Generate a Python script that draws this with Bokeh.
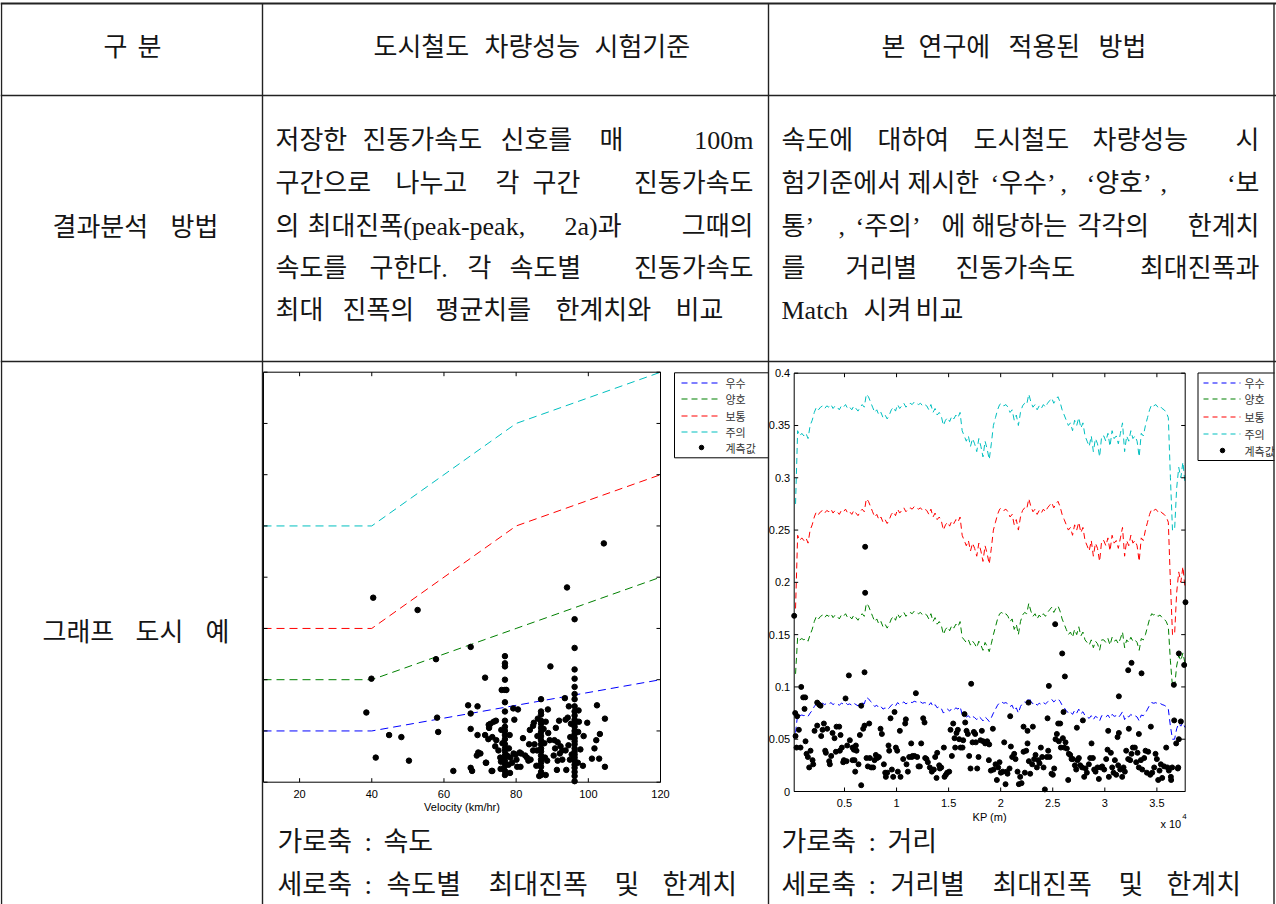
import numpy as np
from bokeh.plotting import figure
from bokeh.models import Range1d
from bokeh.core.properties import value
from bokeh.embed import file_html
from bokeh.resources import INLINE

W, H = 1276, 904

# ---------------- data ----------------
# limit table of the standard (velocity km/h -> peak-peak acceleration)
V_BREAK = [10, 40, 80, 120]
LIM_EXCELLENT = [0.05, 0.05, 0.075, 0.10]
LIM_GOOD = [0.10, 0.10, 0.15, 0.20]
LIM_NORMAL = [0.15, 0.15, 0.25, 0.30]
LIM_CAUTION = [0.25, 0.25, 0.35, 0.40]
LEVEL_NAMES = ["우수", "양호", "보통", "주의"]
MEAS_NAME = "계측값"

# chart 1 : measured max amplitude vs velocity
SPEED_SCATTER = [40.4, 52.7, 104.3, 94.1, 67.4, 57.8, 39.9, 89.5, 71.4, 38.5, 44.8, 48.2, 41.1, 50.3, 58.1,
                 58.4, 62.6, 66.7, 69.3, 67.4, 67.4, 67.4, 67.8, 69.3, 69.1, 69.5, 72.4, 71.7, 73.2,
                 93.5, 102.4, 104.6, 99.7, 102.2, 103.2, 101.7, 101.0, 103.0, 104.6, 98.5, 98.7, 97.8, 97.4,
                 94.3, 93.7, 91.9, 91.0, 88.9, 89.3, 90.6, 91.5, 90.8, 92.3, 92.8, 93.7, 92.1, 91.5, 90.4,
                 91.3, 93.9, 92.8, 94.5, 94.9, 88.2, 88.8, 84.9, 83.8, 84.7, 83.6, 85.1, 84.7, 84.0, 83.0,
                 82.5, 81.9, 81.4, 81.2, 79.9, 79.3, 80.1, 78.9, 79.5, 79.2, 80.5, 88.6, 88.0, 85.8, 86.4,
                 88.2, 73.8, 74.4, 72.9, 72.5, 71.4, 72.3, 73.4, 74.5, 74.2, 75.1, 75.6, 75.8, 77.5, 78.4,
                 77.9, 71.6, 73.4, 70.1, 81.0, 80.3, 83.4,
                 75.9, 78.2, 76.2, 78.0, 75.7, 78.3, 85.9, 87.8, 86.0, 87.6, 85.6, 95.0, 97.2, 95.4, 97.1,
                 95.2, 97.3, 94.6, 76.0, 77.3]
AMP_SCATTER = [0.180, 0.168, 0.233, 0.190, 0.132, 0.120, 0.101, 0.113, 0.102, 0.068, 0.046, 0.044, 0.024, 0.021, 0.063,
               0.049, 0.011, 0.075, 0.074, 0.067, 0.052, 0.014, 0.011, 0.046, 0.026, 0.029, 0.056, 0.019, 0.011,
               0.082, 0.075, 0.062, 0.058, 0.041, 0.047, 0.033, 0.023, 0.023, 0.015, 0.016, 0.045, 0.032, 0.059,
               0.063, 0.061, 0.060, 0.053, 0.048, 0.041, 0.041, 0.039, 0.033, 0.035, 0.031, 0.031, 0.028, 0.021, 0.026,
               0.012, 0.012, 0.022, 0.036, 0.022, 0.059, 0.071, 0.058, 0.051, 0.055, 0.037, 0.037, 0.031, 0.022, 0.024,
               0.026, 0.043, 0.028, 0.015, 0.027, 0.028, 0.022, 0.019, 0.061, 0.072, 0.071, 0.021, 0.024, 0.031, 0.006,
               0.007, 0.059, 0.060, 0.057, 0.053, 0.046, 0.042, 0.044, 0.041, 0.035, 0.031, 0.024, 0.020, 0.026, 0.024,
               0.017, 0.019, 0.011, 0.028, 0.029, 0.015, 0.021,
               0.051, 0.046, 0.038, 0.033, 0.013, 0.009, 0.045, 0.038, 0.062, 0.052, 0.016, 0.044, 0.049, 0.027, 0.019,
               0.057, 0.070, 0.074, 0.090, 0.090]
# measurements concentrated at three cruising speeds
COL_SPEEDS = [76.9, 86.9, 96.2]
COL_AMPS_A = [0.123, 0.116, 0.113, 0.100, 0.090, 0.078, 0.069, 0.060, 0.054, 0.050, 0.046, 0.042,
              0.037, 0.033, 0.030, 0.026, 0.022, 0.019, 0.016, 0.011, 0.007]
COL_AMPS_B = [0.081, 0.069, 0.066, 0.060, 0.057, 0.053, 0.049, 0.045, 0.041, 0.037, 0.033, 0.030,
              0.026, 0.022, 0.019, 0.015, 0.010, 0.007]
COL_AMPS_C = [0.159, 0.131, 0.110, 0.101, 0.093, 0.086, 0.081, 0.074, 0.069, 0.065, 0.061, 0.057, 0.054,
              0.050, 0.047, 0.043, 0.040, 0.037, 0.033, 0.030, 0.027, 0.024, 0.021, 0.017, 0.014, 0.010,
              0.006, 0.001]

# chart 2 : running speed profile along the line (every 200 m from KP 300 m)
KP_START, KP_STEP = 300, 200
SPEED_PROFILE = [50, 78, 76, 77, 76, 77, 75, 80, 84, 90, 94,
                 92, 94, 95, 93, 95, 94, 96, 93, 95, 94, 92, 95, 94, 96, 93, 94, 92, 95, 93, 91, 94, 96, 94,
                 104, 102,
                 98, 94, 90, 92, 88, 90, 86, 88,
                 85, 88,
                 92, 94, 91, 96, 93, 95, 97, 94, 96,
                 97, 96, 98, 97, 96, 97, 95, 96,
                 95, 92, 96, 90, 93, 88, 90, 87,
                 80, 84,
                 86, 83, 87, 85, 88, 86, 90,
                 78, 76,
                 74, 76, 72, 75, 73, 70, 75, 72, 68, 74, 71, 67, 73,
                 80, 86, 92,
                 96, 97, 95, 96, 94, 90, 92,
                 84, 88, 80, 90,
                 95, 97, 96, 104, 98,
                 94, 96, 92, 95, 93, 96, 94, 97,
                 99, 101, 97, 100, 102, 98,
                 92, 88, 84,
                 80, 82, 78, 84, 80, 86, 79, 82, 76,
                 74, 72, 76, 70, 75, 73, 68, 76,
                 76, 74, 77, 72, 78, 75, 76, 73, 77, 82, 70, 76, 74, 78, 75, 76, 74, 68, 77, 76, 80,
                 86, 92, 96, 95, 96, 94, 95, 93, 92, 90,
                 86, 60, 40, 38, 56, 64, 60, 66, 58]

# chart 2 : measured max amplitude vs KP (m)
KP_MEAS_A = [266, 458, 618, 298, 394, 778, 1258, 1354, 1482, 1610,
             1739, 1931, 1995, 2123, 2379, 2379, 2571, 2699, 2763, 2891,
             3019, 3147, 3211, 3339, 3531, 3595, 3723, 3851, 4043, 4171,
             4235, 4491, 4620, 4555, 4748, 4940, 4876, 5100, 5196, 5260,
             5516, 5772, 5964, 5772, 5900, 6092, 6156, 6348, 6028, 6476,
             6604, 6796, 6924, 6604, 7116, 7244, 7372, 7436, 7564, 7756,
             7884, 8012, 8141, 8301, 8461, 8589, 8781, 8909, 8973, 9101,
             9229, 9293, 9421, 9549, 9677, 9805, 9933, 10061, 10125, 10317,
             10381, 10637, 10829, 10893, 10957, 11086, 11214, 11406, 11470, 11534,
             11726, 11854, 11982, 12110, 12238, 12366, 12558, 12686, 12750, 12878,
             13006, 13198, 13390, 13582, 13710, 13838, 13902, 14094, 14158, 14287,
             14543, 14607, 14735, 14863, 15055, 15183, 15311, 15439, 15567, 15631,
             15759, 15887, 16015, 16143, 16335, 16399, 16527, 16591, 16719, 16847,
             16975, 17103, 17167, 17295, 17424, 17552, 17616, 17744, 17872, 18064,
             18192, 18320, 18512, 18704, 18896]
AMP_MEAS_A = [0.075, 0.072, 0.059, 0.053, 0.042, 0.042, 0.048, 0.036, 0.033, 0.023,
              0.039, 0.030, 0.026, 0.058, 0.063, 0.085, 0.083, 0.082, 0.053, 0.059,
              0.065, 0.039, 0.037, 0.060, 0.029, 0.026, 0.034, 0.056, 0.051, 0.038,
              0.062, 0.062, 0.054, 0.039, 0.042, 0.030, 0.028, 0.089, 0.029, 0.044,
              0.049, 0.042, 0.030, 0.030, 0.040, 0.044, 0.039, 0.026, 0.019, 0.054,
              0.082, 0.060, 0.063, 0.006, 0.032, 0.024, 0.065, 0.032, 0.023, 0.023,
              0.030, 0.035, 0.032, 0.033, 0.060, 0.055, 0.026, 0.018, 0.014, 0.018,
              0.044, 0.039, 0.070, 0.021, 0.014, 0.076, 0.042, 0.039, 0.019, 0.058,
              0.014, 0.031, 0.065, 0.069, 0.026, 0.019, 0.033, 0.046, 0.033, 0.034,
              0.034, 0.094, 0.033, 0.024, 0.024, 0.046, 0.070, 0.066, 0.032, 0.031,
              0.028, 0.023, 0.019, 0.021, 0.033, 0.013, 0.037, 0.025, 0.022, 0.023,
              0.042, 0.014, 0.016, 0.018, 0.019, 0.059, 0.034, 0.065, 0.051, 0.042,
              0.056, 0.059, 0.050, 0.042, 0.042, 0.049, 0.074, 0.066, 0.058, 0.055,
              0.034, 0.022, 0.103, 0.047, 0.057, 0.055, 0.047, 0.022, 0.033, 0.049,
              0.058, 0.048, 0.046, 0.048, 0.045]
KP_MEAS_B = [25907, 26163, 24627, 31349, 32245, 32565, 33525, 37111, 36631, 37623,
             26035, 24499, 20914, 19249, 25523, 25715, 22194, 22578, 23090, 27316,
             27892, 30325, 31349, 31221, 32309, 33270, 34422, 36663, 37303, 36855,
             37111, 22674, 18865, 19057, 19313, 19505, 19633, 19761, 19889, 20017,
             20209, 20338, 20466, 20594, 20658, 20850, 20978, 21106, 21298, 21426,
             21618, 21746, 21874, 22002, 22194, 22322, 22450, 22578, 22706, 22834,
             23026, 23218, 23347, 23475, 23603, 23731, 23859, 23987, 24115, 24243,
             24435, 24563, 24691, 24883, 25011, 25139, 25267, 25395, 25587, 25779,
             25971, 26099, 26227, 26355, 26483, 26547, 26675, 26804, 26932, 27124,
             27252, 27380, 27508, 27636, 27828, 28020, 28148, 28276, 28468, 28596,
             28724, 28852, 28980, 29108, 29300, 29428, 29620, 29749, 29941, 30133,
             30261, 30389, 30581, 30709, 30837, 30965, 31093, 31285, 31477, 31669,
             31797, 31925, 32053, 32245, 32437, 32565, 32693, 32885, 33013, 33142,
             33270, 33462, 33590, 33782, 33910, 34038, 34166, 34358, 34550, 34742,
             34870, 34998, 35126, 35254, 35382, 35510, 35703, 35895, 36023, 36151,
             36343, 36471, 37047]
AMP_MEAS_B = [0.132, 0.110, 0.101, 0.091, 0.116, 0.123, 0.113, 0.132, 0.102, 0.121,
              0.076, 0.070, 0.072, 0.060, 0.065, 0.065, 0.062, 0.058, 0.062, 0.061,
              0.068, 0.058, 0.056, 0.052, 0.060, 0.055, 0.062, 0.068, 0.067, 0.046,
              0.050, 0.085, 0.030, 0.020, 0.021, 0.026, 0.011, 0.023, 0.028, 0.018,
              0.019, 0.047, 0.007, 0.019, 0.017, 0.022, 0.043, 0.033, 0.036, 0.031,
              0.019, 0.007, 0.014, 0.008, 0.038, 0.018, 0.039, 0.046, 0.029, 0.017,
              0.026, 0.031, 0.035, 0.023, 0.030, 0.027, 0.042, 0.033, 0.023, 0.002,
              0.033, 0.039, 0.033, 0.017, 0.016, 0.022, 0.050, 0.055, 0.048, 0.042,
              0.051, 0.042, 0.047, 0.041, 0.011, 0.036, 0.035, 0.031, 0.031, 0.025,
              0.021, 0.030, 0.032, 0.025, 0.023, 0.014, 0.022, 0.018, 0.026, 0.032,
              0.046, 0.032, 0.021, 0.019, 0.023, 0.012, 0.023, 0.024, 0.021, 0.031,
              0.040, 0.014, 0.037, 0.023, 0.018, 0.030, 0.016, 0.025, 0.021, 0.014,
              0.023, 0.019, 0.039, 0.031, 0.030, 0.036, 0.042, 0.042, 0.028, 0.037,
              0.023, 0.030, 0.021, 0.032, 0.039, 0.018, 0.038, 0.016, 0.018, 0.023,
              0.036, 0.031, 0.011, 0.020, 0.026, 0.013, 0.024, 0.042, 0.023, 0.020,
              0.014, 0.023, 0.023]
KP_MEAS_C = [170, 6984, 6984, 25233, 37746, 37010, 36370, 5420, 6924, 842, 1034, 1226, 1162]
AMP_MEAS_C = [0.168, 0.234, 0.190, 0.160, 0.181, 0.022, 0.011, 0.111, 0.114, 0.100, 0.090, 0.090, 0.079]

# axes
VEL_LIM = (10, 120)
AMP_LIM = (0.0, 0.4)
KP_LIM = (170, 37720)
VEL_TICKS = [20, 40, 60, 80, 100, 120]
AMP_TICKS = [0, 0.05, 0.1, 0.15, 0.2, 0.25, 0.3, 0.35, 0.4]
AMP_TICK_LABELS = ["0", "0.05", "0.1", "0.15", "0.2", "0.25", "0.3", "0.35", "0.4"]
KP_TICKS = [5000, 10000, 15000, 20000, 25000, 30000, 35000]
KP_TICK_LABELS = ["0.5", "1", "1.5", "2", "2.5", "3", "3.5"]

# table texts
HEADER = ["구 분", "도시철도 차량성능 시험기준", "본 연구에 적용된 방법"]
ROW_LABELS = ["결과분석 방법", "그래프 도시 예"]
STD_TEXT = ["저장한 진동가속도 신호를 매 100m",
            "구간으로 나누고 각 구간 진동가속도",
            "의 최대진폭(peak-peak, 2a)과 그때의",
            "속도를 구한다. 각 속도별 진동가속도",
            "최대 진폭의 평균치를 한계치와 비교"]
OUR_TEXT = ["속도에 대하여 도시철도 차량성능 시",
            "험기준에서 제시한 ‘우수’ , ‘양호’ , ‘보",
            "통’ , ‘주의’ 에 해당하는 각각의 한계치",
            "를 거리별 진동가속도 최대진폭과",
            "Match 시켜 비교"]
CAPTIONS_1 = ["가로축 : 속도", "세로축 : 속도별 최대진폭 및 한계치"]
CAPTIONS_2 = ["가로축 : 거리", "세로축 : 거리별 최대진폭 및 한계치"]

# ---------------- styles / layout ----------------
LEVEL_COLORS = ["#0000ff", "#008000", "#ff0000", "#00bfbf"]
KR = value("Noto Sans CJK KR")
MIX = value("Liberation Serif, Noto Sans CJK KR")
SANS = value("Liberation Sans")
INK = "#151515"


def span_range(p0, p1, d0, d1, total):
    s = (d1 - d0) / (p1 - p0)
    return Range1d(start=d0 - p0 * s, end=d0 + (total - p0) * s)


def Y(py):
    return H - py


p = figure(width=W, height=H, x_range=Range1d(0, W), y_range=Range1d(0, H),
           output_backend="svg", toolbar_location=None, min_border=0,
           x_axis_type=None, y_axis_type=None, outline_line_color=None,
           background_fill_color="white", border_fill_color="white")
p.xgrid.visible = False
p.ygrid.visible = False

# chart frames in page pixels
C1 = dict(l=263, r=660, t=371.7, b=781.7)
C2 = dict(l=793.7, r=1184.7, t=372.7, b=791.0)
p.extra_x_ranges = {"vel": span_range(C1["l"], C1["r"], VEL_LIM[0], VEL_LIM[1], W),
                    "kp": span_range(C2["l"], C2["r"], KP_LIM[0], KP_LIM[1], W)}
p.extra_y_ranges = {"amp1": span_range(Y(C1["b"]), Y(C1["t"]), AMP_LIM[0], AMP_LIM[1], H),
                    "amp2": span_range(Y(C2["b"]), Y(C2["t"]), AMP_LIM[0], AMP_LIM[1], H)}
k1 = dict(x_range_name="vel", y_range_name="amp1")
k2 = dict(x_range_name="kp", y_range_name="amp2")

LIMITS = [LIM_EXCELLENT, LIM_GOOD, LIM_NORMAL, LIM_CAUTION]


def axis_box(kw, xlim, ylim, xticks, yticks):
    p.quad(left=[xlim[0]], right=[xlim[1]], bottom=[ylim[0]], top=[ylim[1]],
           fill_color=None, line_color="black", line_width=1, **kw)
    L = 4
    p.ray(x=xticks, y=[ylim[0]] * len(xticks), length=L, length_units="screen",
          angle=np.pi / 2, line_color="black", line_width=1, **kw)
    p.ray(x=xticks, y=[ylim[1]] * len(xticks), length=L, length_units="screen",
          angle=-np.pi / 2, line_color="black", line_width=1, **kw)
    p.ray(x=[xlim[0]] * len(yticks), y=yticks, length=L, length_units="screen",
          angle=0, line_color="black", line_width=1, **kw)
    p.ray(x=[xlim[1]] * len(yticks), y=yticks, length=L, length_units="screen",
          angle=np.pi, line_color="black", line_width=1, **kw)


# ---------- chart 1 ----------
for lim, col in zip(LIMITS, LEVEL_COLORS):
    p.line(V_BREAK, lim, line_color=col, line_width=1, line_dash="8 5", **k1)
sp1 = list(SPEED_SCATTER) + [COL_SPEEDS[0]] * len(COL_AMPS_A) + [COL_SPEEDS[1]] * len(COL_AMPS_B) + \
    [COL_SPEEDS[2]] * len(COL_AMPS_C)
am1 = list(AMP_SCATTER) + COL_AMPS_A + COL_AMPS_B + COL_AMPS_C
p.scatter(sp1, am1, size=5.5, fill_color="black", line_color="black", **k1)
axis_box(k1, VEL_LIM, AMP_LIM, VEL_TICKS, AMP_TICKS)
p.text(x=VEL_TICKS, y=[AMP_LIM[0]] * len(VEL_TICKS), text=[str(t) for t in VEL_TICKS],
       text_font=SANS, text_font_size="11px", text_align="center", text_baseline="middle",
       y_offset=12, text_color="black", **k1)
p.text(x=[(VEL_LIM[0] + VEL_LIM[1]) / 2], y=[AMP_LIM[0]], text=["Velocity (km/hr)"],
       text_font=SANS, text_font_size="11px", text_align="center", text_baseline="middle",
       y_offset=25, text_color="black", **k1)

# ---------- chart 2 ----------
kp = KP_START + KP_STEP * np.arange(len(SPEED_PROFILE))
for lim, col in zip(LIMITS, LEVEL_COLORS):
    p.line(kp, np.interp(SPEED_PROFILE, V_BREAK, lim), line_color=col, line_width=1,
           line_dash="6 4", **k2)
kp_m = KP_MEAS_A + KP_MEAS_B + KP_MEAS_C
am_m = AMP_MEAS_A + AMP_MEAS_B + AMP_MEAS_C
p.scatter(kp_m, am_m, size=5, fill_color="black", line_color="black", **k2)
axis_box(k2, KP_LIM, AMP_LIM, KP_TICKS, AMP_TICKS)
p.text(x=KP_TICKS, y=[AMP_LIM[0]] * len(KP_TICKS), text=KP_TICK_LABELS,
       text_font=SANS, text_font_size="11px", text_align="center", text_baseline="middle",
       y_offset=11, text_color="black", **k2)
p.text(x=[KP_LIM[0]] * len(AMP_TICKS), y=AMP_TICKS, text=AMP_TICK_LABELS,
       text_font=SANS, text_font_size="11px", text_align="right", text_baseline="middle",
       x_offset=-4, text_color="black", **k2)
p.text(x=[(KP_LIM[0] + KP_LIM[1]) / 2], y=[AMP_LIM[0]], text=["KP (m)"],
       text_font=SANS, text_font_size="11px", text_align="center", text_baseline="middle",
       y_offset=25, text_color="black", **k2)
p.text(x=[KP_LIM[1]], y=[AMP_LIM[0]], text=["x 10"], text_font=SANS, text_font_size="11px",
       text_align="right", text_baseline="middle", x_offset=-4, y_offset=32, text_color="black", **k2)
p.text(x=[KP_LIM[1]], y=[AMP_LIM[0]], text=["4"], text_font=SANS, text_font_size="8px",
       text_align="left", text_baseline="middle", x_offset=-3, y_offset=25, text_color="black", **k2)


# ---------- legends (page pixels) ----------
def legend(box, x_line, x_dot, x_text, ys, dash):
    l, r, t, b = box
    p.quad(left=[l], right=[r], bottom=[Y(b)], top=[Y(t)], fill_color="white",
           line_color="black", line_width=1)
    for yy, col in zip(ys[:4], LEVEL_COLORS):
        p.line([x_line[0], x_line[1]], [Y(yy), Y(yy)], line_color=col, line_width=1.2, line_dash=dash)
    p.scatter([x_dot], [Y(ys[4])], size=4.5, fill_color="black", line_color="black")
    p.text(x=[x_text] * 5, y=[Y(v) for v in ys], text=LEVEL_NAMES + [MEAS_NAME], text_font=KR,
           text_font_size="11px", text_align="left", text_baseline="middle", text_color="#333333")


legend((674, 768, 372.3, 457.3), (681, 721), 701, 725, [382.5, 398.5, 415.5, 431.5, 447], "6 4")
legend((1197.5, 1300, 372.5, 460), (1203, 1240), 1222, 1244, [382.5, 398.5, 416.5, 433.5, 450], "5 4")

# clip strip to the right of table border
p.quad(left=[1274], right=[W], bottom=[0], top=[H], fill_color="white", line_color=None)


# ---------- table texts ----------
def words(items, fs, font=MIX, align="left"):
    if not items:
        return
    p.text(x=[i[0] for i in items], y=[Y(i[1]) for i in items], text=[i[2] for i in items],
           text_font=font, text_font_size=f"{fs}px", text_align=align, text_baseline="middle",
           text_color=INK)


def place(line, xs, y, right_end=None):
    """Place the words of a line at the given left x positions; if right_end is given the
    last word is right-aligned at that x (justified line)."""
    toks = line.split()
    left, right = [], []
    for i, (x, w) in enumerate(zip(xs, toks)):
        if right_end is not None and i == len(toks) - 1:
            right.append((right_end, y, w))
        else:
            left.append((x, y, w))
    return left, right


LEFT_ITEMS, RIGHT_ITEMS = [], []


def add(line, xs, y, right_end=None):
    l, r = place(line, xs, y, right_end)
    LEFT_ITEMS.extend(l)
    RIGHT_ITEMS.extend(r)


# header and row labels
add(HEADER[0], [103, 137], 47)
add(HEADER[1], [373, 484, 594], 47)
add(HEADER[2], [881, 918, 1008, 1098], 47)
add(ROW_LABELS[0], [52, 170], 227)
add(ROW_LABELS[1], [42, 135, 205], 632)

LINE_Y = [140, 183, 226, 268, 310]
STD_X = [[275, 362, 500, 599, 0],
         [275, 395, 495, 532, 0],
         [275, 307, 564, 0],
         [275, 369, 467, 509, 0],
         [275, 342, 435, 555, 675]]
OUR_X = [[781, 877, 973, 1092, 0],
         [781, 907, 990, 1060, 1086, 1160, 0],
         [781, 838, 855, 941, 971, 1077, 0],
         [781, 845, 955, 0],
         [781, 863, 915]]
for i, (line, xs, y) in enumerate(zip(STD_TEXT, STD_X, LINE_Y)):
    add(line, xs, y, 753 if i < 4 else None)
for i, (line, xs, y) in enumerate(zip(OUR_TEXT, OUR_X, LINE_Y)):
    add(line, xs, y, 1259 if i < 4 else None)
words(LEFT_ITEMS, 26)
words(RIGHT_ITEMS, 26, align="right")

CAP_Y = [841, 884]
CAP_X1 = [[277, 364, 383], [277, 364, 386, 488, 614, 662]]
cap = []
for line, xs, y in zip(CAPTIONS_1, CAP_X1, CAP_Y):
    cap += place(line, xs, y)[0]
for line, xs, y in zip(CAPTIONS_2, CAP_X1, CAP_Y):
    cap += place(line, [x + 504 for x in xs], y)[0]
words(cap, 27)

# ---------- table rules ----------
HR = [(3, 2.0), (95, 1.3), (361, 1.6)]
VR = [1, 262, 768, 1273.5]
p.segment(x0=[0] * len(HR), y0=[Y(h[0]) for h in HR], x1=[W] * len(HR), y1=[Y(h[0]) for h in HR],
          line_width=[h[1] for h in HR], line_color="#222222")
p.segment(x0=VR, y0=[Y(3)] * len(VR), x1=VR, y1=[0] * len(VR), line_width=1.4, line_color="#222222")

open("out.html", "w").write(file_html(p, INLINE))
